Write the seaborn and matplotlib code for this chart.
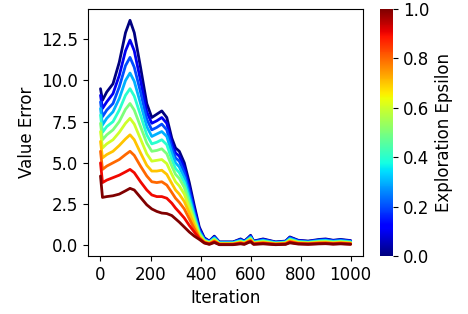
import matplotlib
matplotlib.use("Agg")
import matplotlib.pyplot as plt
import numpy as np
import pandas as pd
import seaborn as sns

# shared iteration grid
iters = [0, 8, 25, 50, 75, 100, 118, 135, 160, 185, 205, 225, 245, 265, 285, 300, 315,
         335, 355, 375, 395, 415, 435,
         455, 475, 530, 560, 575, 590, 600, 612, 650, 700, 740, 757, 790, 830, 875,
         900, 930, 960, 1000]

epsilons = [0.0, 0.1, 0.2, 0.3, 0.4, 0.5, 0.6, 0.7, 0.8, 0.9, 1.0]

err_00 = [9.5, 8.8, 9.3, 9.8, 11.1, 12.9, 13.65, 12.9, 10.8, 8.6, 7.75, 7.95, 8.15, 7.75, 6.5, 5.9, 5.7,
          5.0, 3.8, 2.4, 1.1, 0.45, 0.25,
          .55, .2, .2, .38, .25, .45, .6, .25, .38, .2, .25, .5, .3, .25, .35, .38, .3, .35, .28]
err_01 = [9.1, 8.3, 8.7, 9.2, 10.3, 11.8, 12.45, 11.8, 10.0, 8.1, 7.4, 7.55, 7.75, 7.4, 6.2, 5.6, 5.4,
          4.7, 3.5, 2.2, 1.0, 0.4, 0.23,
          .51, .18, .18, .35, .23, .42, .56, .23, .35, .18, .23, .47, .28, .23, .32, .35, .28, .32, .26]
err_02 = [8.7, 7.8, 8.2, 8.6, 9.6, 10.9, 11.4, 10.8, 9.3, 7.65, 7.0, 7.15, 7.35, 7.0, 5.9, 5.3, 5.1,
          4.4, 3.25, 2.0, 0.9, 0.37, 0.21,
          .48, .17, .17, .32, .21, .39, .52, .21, .32, .17, .21, .44, .25, .21, .3, .32, .25, .3, .23]
err_03 = [8.3, 7.3, 7.7, 8.1, 8.9, 10.0, 10.45, 9.95, 8.6, 7.2, 6.6, 6.75, 6.9, 6.6, 5.6, 5.0, 4.75,
          4.1, 3.0, 1.85, 0.8, 0.33, 0.19,
          .44, .15, .15, .29, .19, .36, .48, .19, .29, .15, .19, .4, .23, .19, .27, .29, .23, .27, .21]
err_04 = [7.9, 6.85, 7.2, 7.5, 8.2, 9.1, 9.5, 9.05, 7.9, 6.7, 6.15, 6.25, 6.4, 6.1, 5.2, 4.65, 4.4,
          3.8, 2.75, 1.7, 0.75, 0.3, 0.17,
          .40, .13, .13, .26, .17, .33, .44, .17, .26, .13, .17, .36, .21, .17, .24, .26, .2, .24, .19]
err_05 = [7.4, 6.4, 6.7, 7.0, 7.5, 8.25, 8.6, 8.2, 7.2, 6.2, 5.7, 5.75, 5.85, 5.55, 4.8, 4.3, 4.05,
          3.5, 2.5, 1.55, 0.7, 0.28, 0.15,
          .36, .11, .11, .23, .15, .3, .4, .15, .23, .11, .15, .33, .18, .15, .21, .23, .18, .21, .16]
err_06 = [6.9, 5.9, 6.15, 6.4, 6.85, 7.4, 7.7, 7.35, 6.45, 5.55, 5.1, 5.15, 5.2, 4.95, 4.3, 3.85, 3.6,
          3.1, 2.25, 1.4, 0.6, 0.25, 0.13,
          .32, .09, .09, .2, .13, .27, .36, .13, .2, .09, .13, .3, .16, .13, .19, .2, .15, .19, .14]
err_07 = [6.3, 5.3, 5.5, 5.7, 6.05, 6.45, 6.7, 6.4, 5.6, 4.85, 4.5, 4.5, 4.55, 4.3, 3.75, 3.35, 3.1,
          2.65, 1.95, 1.2, 0.5, 0.2, 0.11,
          .28, .08, .08, .17, .11, .24, .32, .11, .17, .08, .11, .26, .14, .11, .16, .17, .13, .16, .12]
err_08 = [5.7, 4.6, 4.8, 5.0, 5.2, 5.5, 5.7, 5.45, 4.8, 4.2, 3.85, 3.8, 3.85, 3.65, 3.2, 2.85, 2.6,
          2.2, 1.6, 1.0, 0.45, 0.17, 0.09,
          .24, .06, .06, .14, .09, .21, .28, .09, .14, .06, .09, .22, .11, .09, .13, .14, .1, .13, .09]
err_09 = [5.0, 3.8, 3.95, 4.1, 4.25, 4.45, 4.6, 4.4, 3.85, 3.35, 3.05, 2.95, 2.95, 2.85, 2.55, 2.25, 2.0,
          1.65, 1.2, 0.8, 0.4, 0.15, 0.07,
          .20, .05, .05, .11, .07, .18, .24, .07, .11, .05, .07, .18, .09, .07, .1, .11, .08, .1, .07]
err_10 = [4.2, 2.9, 2.95, 3.0, 3.1, 3.3, 3.45, 3.35, 2.9, 2.45, 2.2, 2.05, 1.95, 1.92, 1.8, 1.6, 1.4,
          1.1, 0.8, 0.55, 0.35, 0.13, 0.05,
          .16, .03, .03, .08, .05, .15, .2, .05, .08, .03, .05, .14, .07, .05, .08, .09, .06, .08, .05]

errors = [err_00, err_01, err_02, err_03, err_04, err_05, err_06, err_07, err_08, err_09, err_10]

rows = []
for eps, vals in zip(epsilons, errors):
    for it, v in zip(iters, vals):
        rows.append({"Iteration": it, "Value Error": v, "eps": eps})
df = pd.DataFrame(rows)

sns.set_style("ticks")
plt.rcParams["font.family"] = ["DejaVu Sans"]
plt.rcParams["font.size"] = 12
for key in ["axes.edgecolor", "xtick.color", "ytick.color", "text.color", "axes.labelcolor"]:
    plt.rcParams[key] = "black"
plt.rcParams["xtick.major.size"] = 3.5
plt.rcParams["ytick.major.size"] = 3.5

jet = matplotlib.colormaps["jet"]

fig = plt.figure(figsize=(4.68, 3.14), dpi=100)
ax = fig.add_axes([0.188, 0.185, 0.588, 0.786])
cax = fig.add_axes([0.812, 0.185, 0.028, 0.786])

sns.lineplot(data=df, x="Iteration", y="Value Error", hue="eps", palette=jet,
             hue_norm=(0, 1), estimator=None, sort=False, linewidth=2,
             legend=False, ax=ax)
ax.set_xticks([0, 200, 400, 600, 800, 1000])
ax.set_yticks([0.0, 2.5, 5.0, 7.5, 10.0, 12.5])
ax.set_xlabel("Iteration", fontsize=12)
ax.set_ylabel("Value Error", fontsize=12)
ax.tick_params(labelsize=12)

sm = plt.cm.ScalarMappable(cmap=jet, norm=plt.Normalize(0, 1))
cb = fig.colorbar(sm, cax=cax)
cb.set_label("Exploration Epsilon", fontsize=12)
cb.ax.tick_params(labelsize=12)
cb.outline.set_linewidth(0)

fig.savefig("out.png", dpi=100)
